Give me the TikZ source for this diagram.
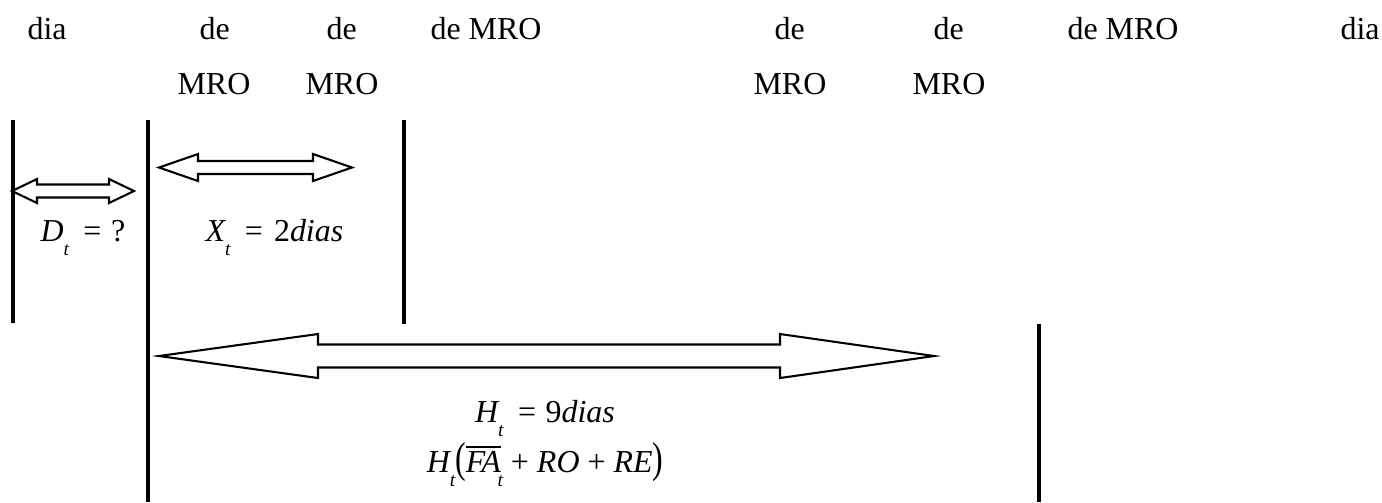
\documentclass[tikz,border=0pt]{standalone}
\usepackage{fontspec}
\setmainfont{Liberation Serif}
\usepackage{graphicx}
\newcommand\sbt{\raisebox{-0.45em}{\fontsize{7}{8}\selectfont\itshape t}}
\newcommand\dbarr[8]{%
  \draw[arrowline] (#2,#6) -- (#3,{#6-#7}) -- (#3,{#6-#8}) -- (#4,{#6-#8}) -- (#4,{#6-#7}) -- (#5,#6)
     -- (#4,{#6+#7}) -- (#4,{#6+#8}) -- (#3,{#6+#8}) -- (#3,{#6+#7}) -- cycle;
  \coordinate (#1) at ({(#2+#5)/2},#6);}
\begin{document}
\begin{tikzpicture}[x=0.36pt,y=-0.36pt,
  every node/.style={inner sep=0pt,font=\fontsize{11.5}{14}\selectfont},
  lbl/.style={anchor=base west},
  eq/.style={anchor=base},
  vline/.style={line width=1.1pt},
  arrowline/.style={line width=0.75pt,line join=miter}]
\useasboundingbox (0,0) rectangle (1382,502);
% header labels
\node[lbl] (t1) at (27,39) {dia};
\node[lbl] (t2) at (199,39) {de};
\node[lbl] (t3) at (326,39) {de};
\node[lbl] (t4) at (430,39) {de MRO};
\node[lbl] (t5) at (774,39) {de};
\node[lbl] (t6) at (933,39) {de};
\node[lbl] (t7) at (1067,39) {de MRO};
\node[lbl] (t8) at (1340,39) {dia};
\node[lbl] (m1) at (177,94) {MRO};
\node[lbl] (m2) at (305,94) {MRO};
\node[lbl] (m3) at (753,94) {MRO};
\node[lbl] (m4) at (912,94) {MRO};
% vertical lines
\coordinate (a1) at (13,120); \coordinate (a2) at (13,323);
\coordinate (b1) at (148,120); \coordinate (b2) at (148,502);
\coordinate (c1) at (404,120); \coordinate (c2) at (404,324);
\coordinate (d1) at (1039,324); \coordinate (d2) at (1039,502);
\draw[vline] (a1) -- (a2);
\draw[vline] (b1) -- (b2);
\draw[vline] (c1) -- (c2);
\draw[vline] (d1) -- (d2);
% double arrows
\dbarr{arrD}{12}{37}{109}{134}{191}{12}{6.5}
\dbarr{arrX}{159}{198}{313}{352}{167.5}{13.5}{6.5}
\dbarr{arrH}{159}{318}{780}{934}{356}{22}{11.5}
% formulas
\node[lbl] (fD) at (40,241) {\itshape D\sbt\kern0.45em\upshape =\kern0.3em?};
\node[lbl] (fX) at (205,241) {\itshape X\sbt\kern0.45em\upshape =\kern0.35em2\itshape dias};
\node[eq] (fH) at (545,422) {\itshape H\sbt\kern0.45em\upshape =\kern0.3em9\itshape dias};
\node[eq] (fF) at (545,472) {\itshape H\sbt\scalebox{1}[1.35]{\upshape(}$\overline{\hbox{\itshape FA}}$\kern-0.1em\sbt\ \upshape+\ \itshape RO\ \upshape+\ \itshape RE\scalebox{1}[1.35]{\upshape)}};
\end{tikzpicture}
\end{document}
